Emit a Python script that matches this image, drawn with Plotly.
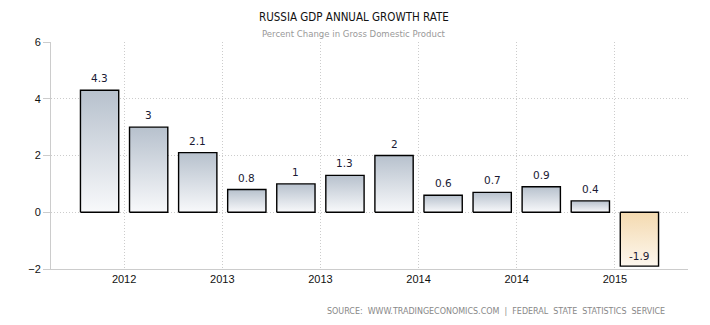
import plotly.graph_objects as go

# Quarterly year-on-year GDP growth, percent
quarters = ["2012 Q2", "2012 Q3", "2012 Q4", "2013 Q1", "2013 Q2", "2013 Q3",
            "2013 Q4", "2014 Q1", "2014 Q2", "2014 Q3", "2014 Q4", "2015 Q1"]
growth = [4.3, 3.0, 2.1, 0.8, 1.0, 1.3, 2.0, 0.6, 0.7, 0.9, 0.4, -1.9]
value_labels = ["4.3", "3", "2.1", "0.8", "1", "1.3", "2", "0.6", "0.7", "0.9", "0.4", "-1.9"]
tick_labels = ["2012", "2013", "2013", "2014", "2014", "2015"]
y_ticks = [-2, 0, 2, 4, 6]

BAR_W = 0.78
POS_SCALE = [[0, "#f8f9fb"], [1, "#b7c1cd"]]
NEG_SCALE = [[0, "#fdf7ee"], [1, "#f4dab0"]]
GRID = "#cccccc"
DOTS = "1px,2px"

fig = go.Figure()

# each bar as a filled rectangle with a vertical gradient
for i, v in enumerate(growth):
    x0, x1 = i - BAR_W / 2, i + BAR_W / 2
    lo, hi = min(0, v), max(0, v)
    fig.add_trace(go.Scatter(
        x=[x0, x1, x1, x0, x0],
        y=[0, 0, v, v, 0],
        mode="lines",
        fill="toself",
        fillgradient=dict(type="vertical",
                          colorscale=POS_SCALE if v >= 0 else NEG_SCALE,
                          start=lo, stop=hi),
        line=dict(color="#000000", width=1.4),
        name=quarters[i],
        hovertemplate=quarters[i] + ": " + value_labels[i] + "<extra></extra>",
        showlegend=False,
    ))

# value labels: above positive bars, inside the tip of negative bars
label_notes = []
for i, (v, t) in enumerate(zip(growth, value_labels)):
    label_notes.append(dict(
        x=i, y=v, xref="x", yref="y", text=t, showarrow=False,
        xanchor="center", yanchor="bottom",
        yshift=4 if v >= 0 else 2,
        font=dict(family="DejaVu Sans", size=10.5, color="#1a1a33"),
    ))

fig.update_layout(
    width=710, height=325,
    margin=dict(l=51, r=22, t=42, b=56),
    paper_bgcolor="white",
    plot_bgcolor="white",
    showlegend=False,
    xaxis=dict(
        range=[-0.99, 11.99],
        tickvals=[0.5 + 2 * k for k in range(len(tick_labels))],
        ticktext=tick_labels,
        showgrid=True, gridcolor=GRID, griddash=DOTS, gridwidth=1,
        showline=True, linecolor=GRID, linewidth=1,
        ticks="", zeroline=False,
        tickfont=dict(family="Liberation Sans", size=11, color="#111111"),
    ),
    yaxis=dict(
        range=[-2, 6],
        tickvals=y_ticks,
        showgrid=True, gridcolor=GRID, griddash=DOTS, gridwidth=1,
        showline=True, linecolor=GRID, linewidth=1,
        ticks="outside", ticklen=7, tickcolor=GRID,
        zeroline=False,
        tickfont=dict(family="Liberation Sans", size=11, color="#111111"),
    ),
    annotations=label_notes + [
        dict(text="RUSSIA GDP ANNUAL GROWTH RATE", xref="paper", yref="paper",
             x=0.476, y=1, yshift=25, showarrow=False,
             xanchor="center", yanchor="middle",
             font=dict(family="DejaVu Sans Condensed", size=11.5, color="#111111")),
        dict(text="Percent Change in Gross Domestic Product", xref="paper", yref="paper",
             x=0.476, y=1, yshift=9, showarrow=False,
             xanchor="center", yanchor="middle",
             font=dict(family="DejaVu Sans Condensed", size=9.5, color="#999999")),
        dict(text="SOURCE:  WWW.TRADINGECONOMICS.COM  |  FEDERAL  STATE  STATISTICS  SERVICE",
             xref="paper", yref="paper", x=0.967, y=0, yshift=-42,
             showarrow=False, xanchor="right", yanchor="middle",
             font=dict(family="DejaVu Sans Condensed", size=8.9, color="#888888")),
    ],
)

fig.write_html("out.html")
